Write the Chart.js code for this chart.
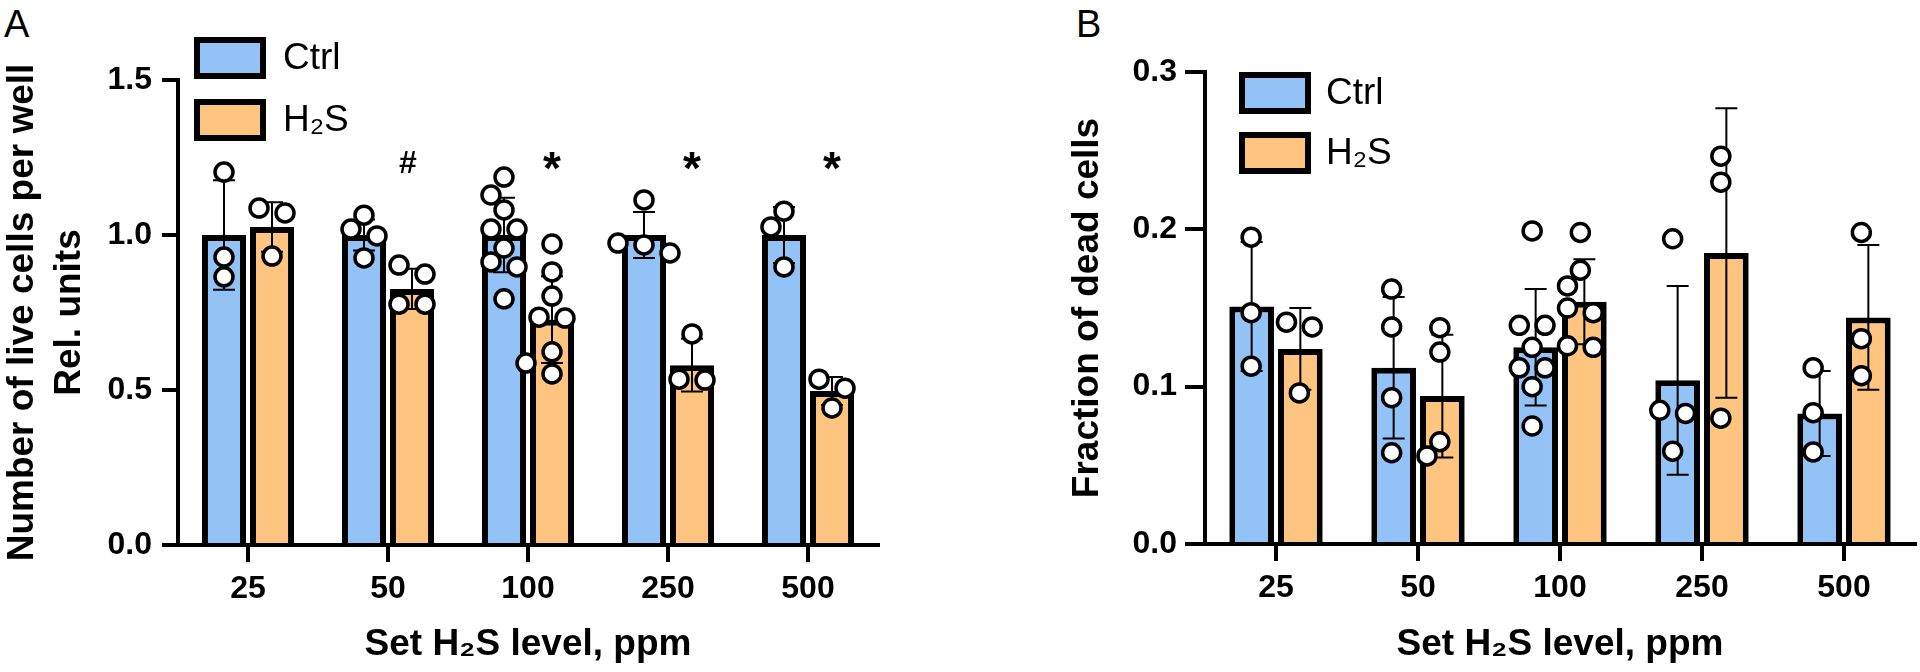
<!DOCTYPE html>
<html>
<head>
<meta charset="utf-8">
<script src="https://cdn.jsdelivr.net/npm/chart.js@4.4.1/dist/chart.umd.min.js"></script>
<style>
  html, body { margin: 0; padding: 0; background: #fff; }
  body { width: 1920px; height: 672px; position: relative; overflow: hidden; font-family: 'Liberation Sans', Arial, sans-serif; }
  canvas { position: absolute; top: 0; }
  .left { left: 0; }
  .right { left: 960px; }
  .panel { position: absolute; top: 5px; font-size: 38px; line-height: 1; color: #000; }
</style>
</head>
<body>
<div class="panel" style="left:4px">A</div>
<div class="panel" style="left:1076px">B</div>
<canvas id="chartA" class="left" width="900" height="672"></canvas>
<canvas id="chartAPts" class="left" width="900" height="672"></canvas>
<canvas id="chartB" class="right" width="960" height="672"></canvas>
<canvas id="chartBPts" class="right" width="960" height="672"></canvas>
<script>
const categories = ['25', '50', '100', '250', '500'];
const seriesNames = ['Ctrl', 'H₂S'];

// panel A - live cells per well, rel. units
const liveCtrlMean = [1.00, 1.00, 1.00, 1.00, 1.00];
const liveCtrlSd = [0.177, 0.05, 0.12, 0.074, 0.09];
const liveH2sMean = [1.026, 0.826, 0.727, 0.58, 0.497];
const liveH2sSd = [0.08, 0.065, 0.14, 0.085, 0.045];
const liveCtrlPoints = [
  [1.203, 0.929, 0.865],
  [1.064, 1.019, 0.997, 0.926],
  [1.187, 1.129, 1.081, 1.019, 1.019, 0.958, 0.913, 0.897, 0.794],
  [1.113, 0.974, 0.968, 0.942],
  [1.077, 1.026, 0.897]
];
const liveH2sPoints = [
  [1.087, 1.071, 0.932],
  [0.903, 0.874, 0.777, 0.777],
  [0.971, 0.881, 0.803, 0.735, 0.732, 0.623, 0.587, 0.552],
  [0.681, 0.535, 0.532],
  [0.535, 0.506, 0.442]
];
const liveMarks = ['', '#', '*', '*', '*'];

// panel B - fraction of dead cells
const deadCtrlMean = [0.151, 0.112, 0.125, 0.104, 0.083];
const deadCtrlSd = [0.041, 0.045, 0.037, 0.060, 0.027];
const deadH2sMean = [0.124, 0.094, 0.154, 0.185, 0.144];
const deadH2sSd = [0.026, 0.039, 0.027, 0.092, 0.046];
const deadCtrlPoints = [
  [0.195, 0.147, 0.113],
  [0.162, 0.138, 0.093, 0.058],
  [0.199, 0.139, 0.139, 0.125, 0.112, 0.112, 0.100, 0.075],
  [0.194, 0.085, 0.083, 0.059],
  [0.112, 0.0835, 0.0585]
];
const deadH2sPoints = [
  [0.141, 0.138, 0.096],
  [0.1375, 0.122, 0.065, 0.056],
  [0.198, 0.174, 0.164, 0.150, 0.147, 0.126, 0.125],
  [0.2465, 0.230, 0.080],
  [0.198, 0.1305, 0.107]
];

const BLUE = '#93C2F7';
const ORANGE = '#FFC47F';
const FONT = "'Liberation Sans', Arial, sans-serif";
Chart.defaults.font.family = FONT;
Chart.defaults.color = '#000';

// error bars drawn right after each bar dataset
const errorBars = {
  id: 'errorBars',
  afterDatasetDraw(chart, args) {
    const ds = chart.data.datasets[args.index];
    if (!ds.sd) return;
    const y = chart.scales.y, ctx = chart.ctx;
    ctx.save();
    ctx.strokeStyle = '#000';
    ctx.lineWidth = 2;
    args.meta.data.forEach((bar, i) => {
      const yt = y.getPixelForValue(ds.data[i] + ds.sd[i]);
      const yb = y.getPixelForValue(ds.data[i] - ds.sd[i]);
      ctx.beginPath();
      ctx.moveTo(bar.x, yt); ctx.lineTo(bar.x, yb);
      ctx.moveTo(bar.x - 11, yt); ctx.lineTo(bar.x + 11, yt);
      ctx.moveTo(bar.x - 11, yb); ctx.lineTo(bar.x + 11, yb);
      ctx.stroke();
    });
    ctx.restore();
  }
};

// legend with boxed swatches, stacked
const boxLegend = {
  id: 'boxLegend',
  afterDraw(chart, args, o) {
    const { ctx, chartArea } = chart;
    ctx.save();
    chart.data.datasets.forEach((d, i) => {
      const x = chartArea.left + o.dx, y = o.top + i * o.step;
      ctx.fillStyle = '#000';
      ctx.fillRect(x, y, 72, 42);
      ctx.fillStyle = d.backgroundColor;
      ctx.fillRect(x + 6, y + 6, 60, 30);
      ctx.fillStyle = '#000';
      ctx.font = '37px ' + FONT;
      ctx.textBaseline = 'middle';
      ctx.fillText(d.label, x + 72 + o.gap, y + 22);
    });
    ctx.restore();
  }
};

const sigMarks = {
  id: 'sigMarks',
  afterDatasetsDraw(chart, args, o) {
    if (!o.marks) return;
    const meta = chart.getDatasetMeta(1), ctx = chart.ctx;
    const yp = chart.scales.y.getPixelForValue(o.level);
    ctx.save();
    ctx.fillStyle = '#000';
    ctx.textAlign = 'center';
    ctx.textBaseline = 'middle';
    o.marks.forEach((t, i) => {
      if (!t) return;
      ctx.font = (t === '*' ? 'bold 46px ' : 'bold 32px ') + FONT;
      ctx.fillText(t, meta.data[i].x - (t === '#' ? 4 : 0), yp + (t === '*' ? 8 : 0));
    });
    ctx.restore();
  }
};

// spread points sideways where they would overlap (pixel offsets)
function swarm(py) {
  const S = 13, D = 19, T = 10;
  const order = py.map((p, k) => k).sort((a, b) => py[a] - py[b]);
  const dx = new Array(py.length).fill(0);
  const placed = [];
  let i = 0;
  while (i < order.length) {
    const row = [order[i]];
    while (i + row.length < order.length && py[order[i + row.length]] - py[order[i]] < T) row.push(order[i + row.length]);
    if (row.length > 1) {
      row.forEach((k, j) => { dx[k] = (j - (row.length - 1) / 2) * 2 * S; placed.push(k); });
    } else {
      const k = row[0];
      let best = 0, bestD = -1;
      for (const c of [0, -S, S, -2 * S, 2 * S]) {
        const md = Math.min(Infinity, ...placed.map(q => Math.hypot(c - dx[q], py[k] - py[q])));
        if (md >= D) { best = c; break; }
        if (md > bestD) { bestD = md; best = c; }
      }
      dx[k] = best;
      placed.push(k);
    }
    i += row.length;
  }
  return dx;
}

function makeChart(id, cfg) {
  const tickFont = { size: 32, weight: 'bold' };
  const titleFont = { size: 37, weight: 'bold', lineHeight: 1.25 };
  const barStyle = { borderColor: '#000', borderWidth: 6, categoryPercentage: 0.686, barPercentage: 0.917 };

  const chart = new Chart(document.getElementById(id), {
    type: 'bar',
    data: {
      labels: categories,
      datasets: [
        Object.assign({ label: seriesNames[0], data: cfg.ctrlMean, sd: cfg.ctrlSd, backgroundColor: BLUE }, barStyle),
        Object.assign({ label: seriesNames[1], data: cfg.h2sMean, sd: cfg.h2sSd, backgroundColor: ORANGE }, barStyle)
      ]
    },
    options: {
      responsive: false,
      animation: false,
      events: [],
      layout: { padding: { left: 0, right: cfg.padRight, top: cfg.top, bottom: 0 } },
      plugins: {
        legend: { display: false },
        tooltip: { enabled: false },
        boxLegend: cfg.legend,
        sigMarks: { marks: cfg.marks, level: cfg.markLevel }
      },
      scales: {
        x: {
          offset: true,
          grid: { offset: false, drawOnChartArea: false, tickLength: 17, lineWidth: 4, color: '#000' },
          border: { display: true, color: '#000', width: 4 },
          ticks: { color: '#000', font: tickFont, padding: 8, maxRotation: 0 },
          title: { display: true, text: 'Set H₂S level, ppm', color: '#000', font: titleFont, padding: { top: 0, bottom: 4 } },
          afterFit: s => { s.height = cfg.xHeight; }
        },
        y: {
          min: 0, max: cfg.yMax,
          grid: { drawOnChartArea: false, tickLength: cfg.yTick, lineWidth: 4, color: '#000' },
          border: { display: true, color: '#000', width: 4 },
          ticks: { stepSize: cfg.yStep, color: '#000', font: tickFont, padding: cfg.yPad, callback: v => v.toFixed(1) },
          title: { display: true, text: cfg.yTitle, color: '#000', font: titleFont, padding: { top: cfg.yTitlePad, bottom: 0 } },
          afterFit: s => { s.width = cfg.yWidth; }
        }
      }
    },
    plugins: [errorBars, boxLegend, sigMarks]
  });

  // individual values: a scatter chart laid over the same plot area
  const ca = chart.chartArea;
  const canvas = document.getElementById(id + 'Pts');
  const pointStyle = {
    showLine: false, pointRadius: 9, pointBorderWidth: 3.5,
    pointBackgroundColor: '#fff', pointBorderColor: '#000'
  };
  const pts = new Chart(canvas, {
    type: 'scatter',
    data: {
      datasets: [
        Object.assign({ label: 'Ctrl', data: [] }, pointStyle),
        Object.assign({ label: 'H2S', data: [] }, pointStyle)
      ]
    },
    options: {
      responsive: false,
      animation: false,
      events: [],
      layout: { padding: { left: ca.left, right: canvas.width - ca.right, top: ca.top, bottom: canvas.height - ca.bottom } },
      plugins: { legend: { display: false }, tooltip: { enabled: false } },
      scales: {
        x: { type: 'linear', display: false, min: -0.5, max: categories.length - 0.5 },
        y: { type: 'linear', display: false, min: 0, max: cfg.yMax }
      }
    }
  });

  const y = pts.scales.y, xs = pts.scales.x;
  [cfg.ctrlPoints, cfg.h2sPoints].forEach((byCat, s) => {
    const barMeta = chart.getDatasetMeta(s);
    const data = [];
    byCat.forEach((vals, i) => {
      const cx = barMeta.data[i].x;
      swarm(vals.map(v => y.getPixelForValue(v))).forEach((dx, k) => {
        data.push({ x: xs.getValueForPixel(cx + dx), y: vals[k] });
      });
    });
    pts.data.datasets[s].data = data;
  });
  pts.update('none');
  return chart;
}

makeChart('chartA', {
  ctrlMean: liveCtrlMean, ctrlSd: liveCtrlSd, h2sMean: liveH2sMean, h2sSd: liveH2sSd,
  ctrlPoints: liveCtrlPoints, h2sPoints: liveH2sPoints,
  marks: liveMarks, markLevel: 1.23,
  yMax: 1.5, yStep: 0.5,
  yTitle: ['Number of live cells per well', 'Rel. units'], yTitlePad: 0,
  yWidth: 178, yTick: 16, yPad: 10,
  top: 80, padRight: 22, xHeight: 127,
  legend: { dx: 16, top: 37, step: 62, gap: 17 }
});

makeChart('chartB', {
  ctrlMean: deadCtrlMean, ctrlSd: deadCtrlSd, h2sMean: deadH2sMean, h2sSd: deadH2sSd,
  ctrlPoints: deadCtrlPoints, h2sPoints: deadH2sPoints,
  marks: null, markLevel: 0,
  yMax: 0.3, yStep: 0.1,
  yTitle: 'Fraction of dead cells', yTitlePad: 105,
  yWidth: 245, yTick: 20, yPad: 8,
  top: 72, padRight: 5, xHeight: 128,
  legend: { dx: 34, top: 72, step: 60, gap: 15 }
});
</script>
</body>
</html>
